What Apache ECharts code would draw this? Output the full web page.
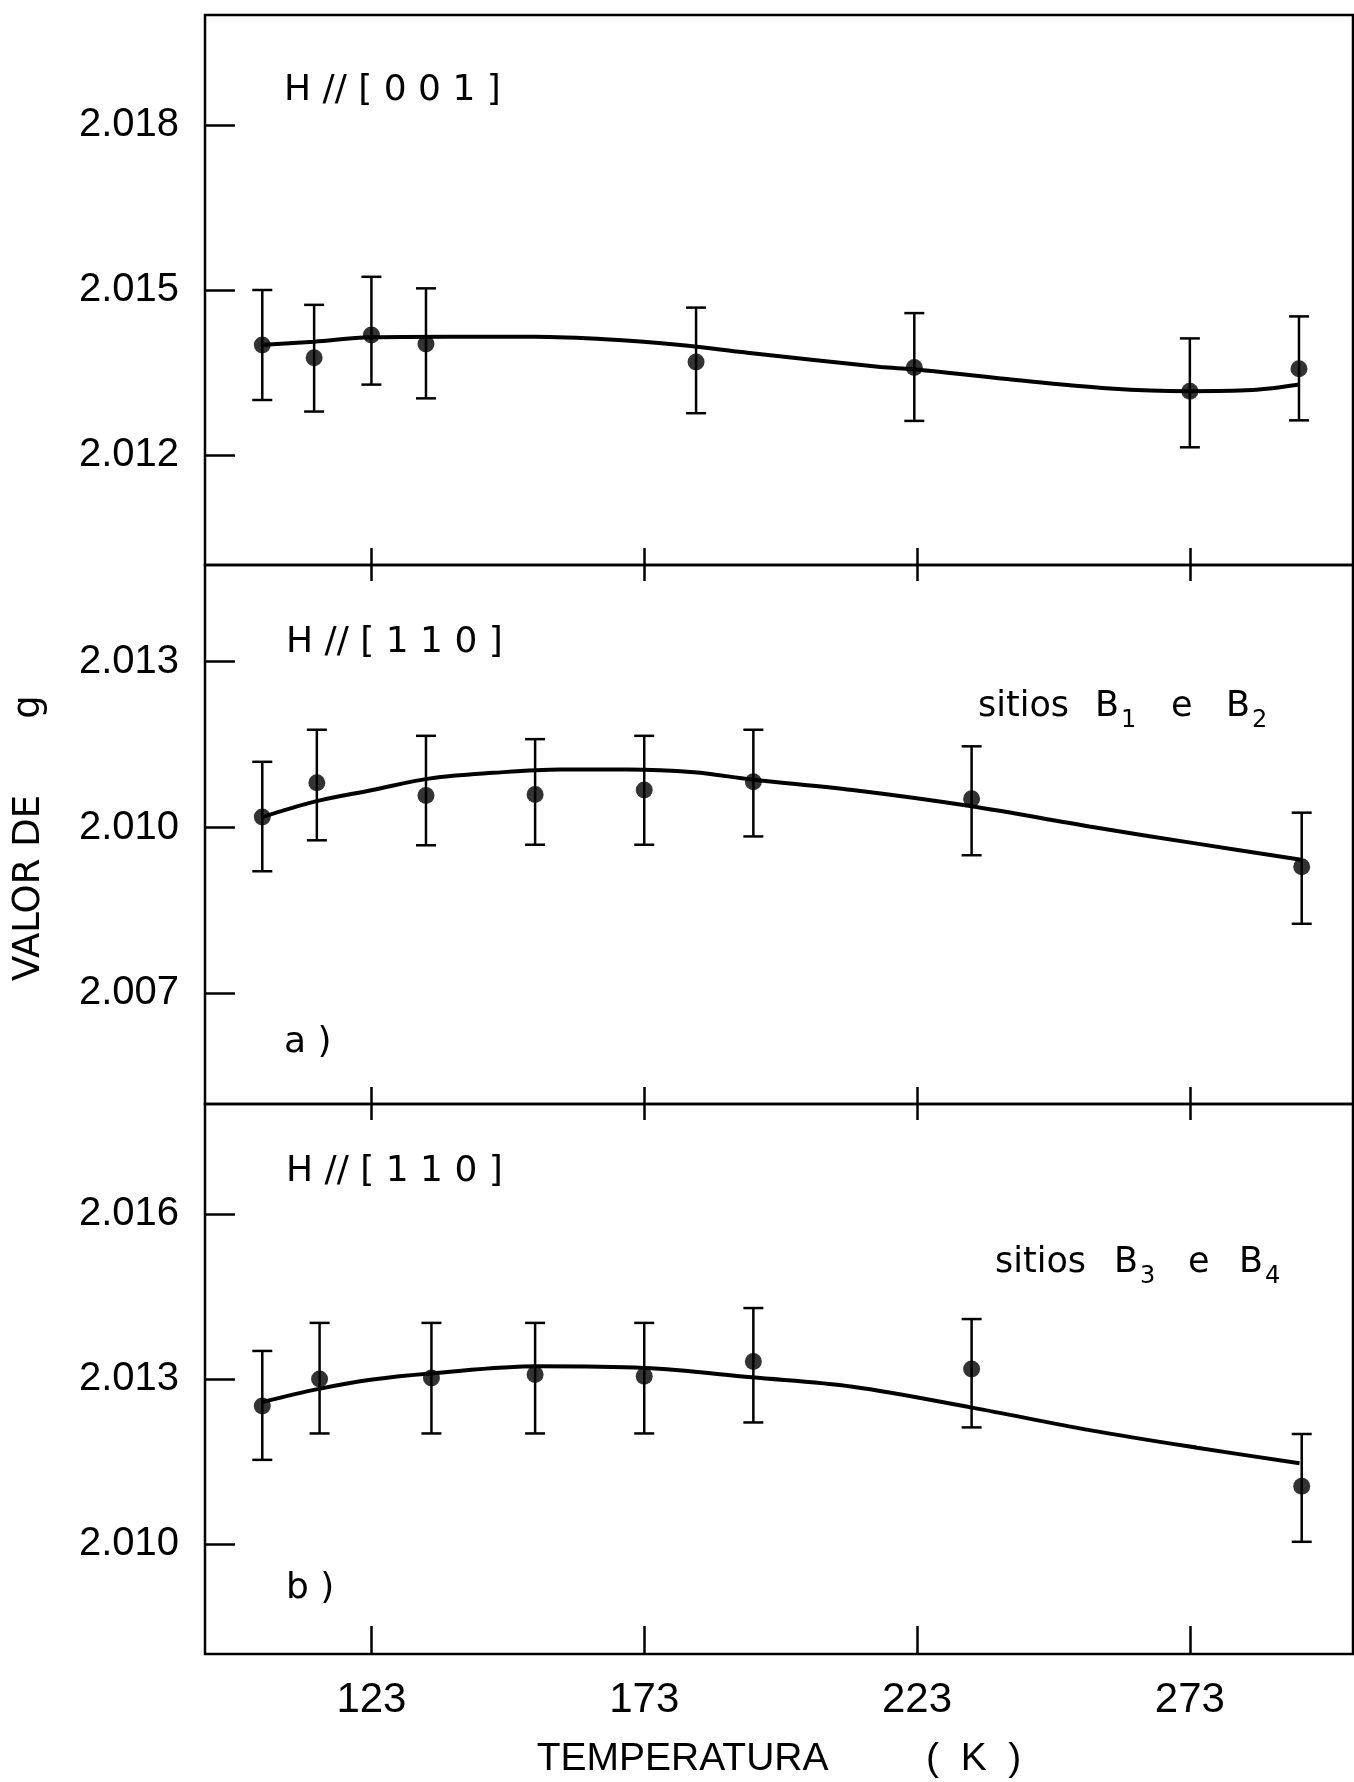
<!DOCTYPE html>
<html>
<head>
<meta charset="utf-8">
<title>Valor de g x temperatura</title>
<script src="https://cdn.jsdelivr.net/npm/echarts@6/dist/echarts.min.js"></script>
<style>
  html, body { margin: 0; padding: 0; background: #fff; }
  #chart { width: 1354px; height: 1782px; }
</style>
</head>
<body>
<div id="chart"></div>
<script>
// painel superior: H // [001]
const tempA = [103, 112.5, 123, 133, 182.5, 222.5, 273, 293];
const gA = [2.0140, 2.01377, 2.01418, 2.01402, 2.01369, 2.01359, 2.01316, 2.01357];
const gA_min = [2.0130, 2.01279, 2.01328, 2.01303, 2.01276, 2.01262, 2.01214, 2.01263];
const gA_max = [2.0150, 2.01473, 2.01524, 2.01503, 2.01468, 2.01458, 2.01412, 2.01452];
const curveTA = [102.7, 112.5, 122.8, 137, 153, 166.6, 179.6, 191.9, 216.3, 222.4, 239.5, 258.4, 272.7, 284.4, 293.1];
const curveGA = [2.0140, 2.01406, 2.01414, 2.01415, 2.01415, 2.0141, 2.0140, 2.01386, 2.0136, 2.01356, 2.01338, 2.01321, 2.01316, 2.01318, 2.01328];

// painel a): H // [110], sitios B1 e B2
const tempB = [103, 113, 133, 153, 173, 193, 233, 293.5];
const gB = [2.01019, 2.01081, 2.01058, 2.0106, 2.01068, 2.01083, 2.01052, 2.00929];
const gB_min = [2.00921, 2.00977, 2.00968, 2.00969, 2.00969, 2.00984, 2.0095, 2.00826];
const gB_max = [2.01119, 2.01177, 2.01166, 2.0116, 2.01166, 2.01177, 2.01147, 2.01027];
const curveTB = [103, 112.6, 123.2, 133.8, 145.3, 157.6, 169.9, 182.1, 192.7, 211.2, 232.7, 254.6, 274.3, 293.4];
const curveGB = [2.01019, 2.01047, 2.01068, 2.01089, 2.01099, 2.01105, 2.01105, 2.0110, 2.01087, 2.01068, 2.01039, 2.01002, 2.00971, 2.00942];

// painel b): H // [110], sitios B3 e B4
const tempC = [103, 113.5, 134, 153, 173, 193, 233, 293.5];
const gC = [2.01251, 2.0130, 2.01302, 2.01308, 2.01305, 2.01332, 2.01318, 2.01105];
const gC_min = [2.01153, 2.01201, 2.01201, 2.01201, 2.01201, 2.01221, 2.01212, 2.01004];
const gC_max = [2.01351, 2.01402, 2.01402, 2.01402, 2.01402, 2.01429, 2.01409, 2.0120];
const curveTC = [103, 113.4, 123.2, 133.8, 153.5, 173.1, 192.7, 211.2, 233.1, 254.6, 274.3, 293.1];
const curveGC = [2.01258, 2.01282, 2.01299, 2.0131, 2.01323, 2.0132, 2.01303, 2.01286, 2.01248, 2.01207, 2.01175, 2.01147];

const xTicks = [123, 173, 223, 273];
const yTicksA = [2.012, 2.015, 2.018];
const yTicksB = [2.007, 2.010, 2.013];
const yTicksC = [2.010, 2.013, 2.016];

const panels = [
  { top: 15, height: 550, min: 2.010, max: 2.020, ticks: yTicksA },
  { top: 565, height: 539, min: 2.005, max: 2.01475, ticks: yTicksB },
  { top: 1104, height: 550, min: 2.008, max: 2.018, ticks: yTicksC }
];

const black = "#000";
const labelFont = "Liberation Sans";
const textFont = "DejaVu Sans";

function zip(a, b) {
  return a.map((v, i) => [v, b[i]]);
}

function errorBar(params, api) {
  const x = api.value(0);
  const lo = api.coord([x, api.value(1)]);
  const hi = api.coord([x, api.value(2)]);
  const half = 10;
  const style = { stroke: black, lineWidth: 2.5 };
  return {
    type: "group",
    children: [
      { type: "line", shape: { x1: lo[0], y1: lo[1], x2: hi[0], y2: hi[1] }, style: style },
      { type: "line", shape: { x1: hi[0] - half, y1: hi[1], x2: hi[0] + half, y2: hi[1] }, style: style },
      { type: "line", shape: { x1: lo[0] - half, y1: lo[1], x2: lo[0] + half, y2: lo[1] }, style: style }
    ]
  };
}

function txt(x, y, text, size, extra) {
  return Object.assign({
    type: "text",
    x: x,
    y: y,
    style: {
      text: text,
      font: size + 'px "' + textFont + '"',
      fill: black,
      align: "left",
      verticalAlign: "middle"
    }
  }, extra || {});
}

const grids = panels.map(p => ({
  left: 205, width: 1148, top: p.top, height: p.height,
  show: true, borderColor: black, borderWidth: 2.5, backgroundColor: "transparent"
}));

// eixos x inferiores (0..2) e superiores dos paineis a) e b) (3..4)
const xAxes = [];
panels.forEach((p, i) => {
  const last = i === panels.length - 1;
  xAxes.push({
    gridIndex: i, type: "value", min: 92.5, max: 302.9, position: "bottom",
    axisLine: { show: false },
    splitLine: { show: false },
    axisTick: { show: true, inside: true, length: last ? 28 : 17, customValues: xTicks, lineStyle: { color: black, width: 2.5 } },
    axisLabel: { show: last, customValues: xTicks, margin: 25, color: black, fontFamily: labelFont, fontSize: 42 },
    name: last ? "TEMPERATURA         (  K  )" : "",
    nameLocation: "middle", nameGap: 86,
    nameTextStyle: { color: black, fontFamily: labelFont, fontSize: 39 }
  });
});
[1, 2].forEach(i => {
  xAxes.push({
    gridIndex: i, type: "value", min: 92.5, max: 302.9, position: "top",
    axisLine: { show: false },
    splitLine: { show: false },
    axisTick: { show: true, inside: true, length: 16, customValues: xTicks, lineStyle: { color: black, width: 2.5 } },
    axisLabel: { show: false }
  });
});

const yAxes = panels.map((p, i) => ({
  gridIndex: i, type: "value", min: p.min, max: p.max,
  axisLine: { show: false },
  splitLine: { show: false },
  axisTick: { show: true, inside: true, length: 30, customValues: p.ticks, lineStyle: { color: black, width: 2.5 } },
  axisLabel: {
    customValues: p.ticks, margin: 26, color: black, fontFamily: labelFont, fontSize: 40,
    formatter: v => v.toFixed(3)
  }
}));

const sets = [
  { t: tempA, g: gA, lo: gA_min, hi: gA_max, ct: curveTA, cg: curveGA },
  { t: tempB, g: gB, lo: gB_min, hi: gB_max, ct: curveTB, cg: curveGB },
  { t: tempC, g: gC, lo: gC_min, hi: gC_max, ct: curveTC, cg: curveGC }
];

const series = [];
sets.forEach((s, i) => {
  series.push({
    type: "custom", xAxisIndex: i, yAxisIndex: i, z: 2,
    renderItem: errorBar,
    encode: { x: 0, y: [1, 2] },
    data: s.t.map((t, k) => [t, s.lo[k], s.hi[k]])
  });
  series.push({
    type: "line", xAxisIndex: i, yAxisIndex: i, z: 3,
    smooth: 0.35, symbol: "none",
    lineStyle: { color: black, width: 4 },
    data: zip(s.ct, s.cg)
  });
  series.push({
    type: "scatter", xAxisIndex: i, yAxisIndex: i, z: 4,
    symbol: "circle", symbolSize: 17,
    itemStyle: { color: black },
    data: zip(s.t, s.g)
  });
});

const graphic = [
  txt(284, 91, "H // [ 0 0 1 ]", 36),
  txt(286, 643, "H // [ 1 1 0 ]", 36),
  txt(286, 1172, "H // [ 1 1 0 ]", 36),
  txt(978, 707, "sitios", 35),
  txt(1095, 707, "B", 35),
  txt(1121, 721, "1", 24),
  txt(1171, 707, "e", 35),
  txt(1226, 707, "B", 35),
  txt(1252, 721, "2", 24),
  txt(995, 1263, "sitios", 35),
  txt(1114, 1263, "B", 35),
  txt(1140, 1277, "3", 24),
  txt(1188, 1263, "e", 35),
  txt(1239, 1263, "B", 35),
  txt(1265, 1277, "4", 24),
  txt(284, 1043, "a )", 36),
  txt(286, 1589, "b )", 36),
  txt(29, 888, "VALOR DE", 37, { rotation: Math.PI / 2 }),
  txt(29, 707, "g", 37, { rotation: Math.PI / 2 })
];
graphic[17].style.align = "center";
graphic[18].style.align = "center";

const chart = echarts.init(document.getElementById("chart"), null, { renderer: "canvas" });
chart.setOption({
  animation: false,
  backgroundColor: "#fff",
  grid: grids,
  xAxis: xAxes,
  yAxis: yAxes,
  series: series,
  graphic: graphic
});
</script>
</body>
</html>
